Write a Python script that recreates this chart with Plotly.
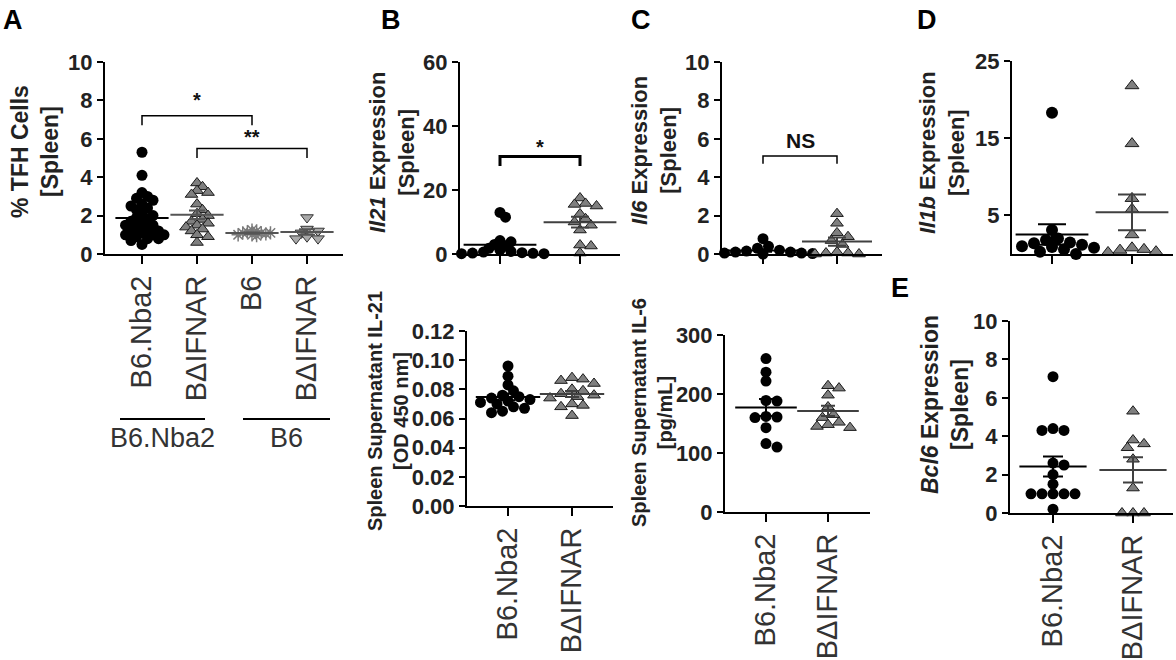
import numpy as np
import plotly.graph_objects as go

W, H = 1176, 660

# ---------------- data ----------------
groups_main = ["B6.Nba2", "BΔIFNAR"]
groups_a = ["B6.Nba2", "BΔIFNAR", "B6", "BΔIFNAR"]
background_a = ["B6.Nba2", "B6"]

# A: % TFH cells
tfh_nba2 = [5.3, 4.1, 3.2, 3.0, 2.9, 2.8, 2.6, 2.5, 2.4, 2.3, 2.1, 2.0, 1.9, 1.8, 1.7, 1.6,
            1.5, 1.5, 1.4, 1.3, 1.2, 1.2, 1.1, 1.0, 1.0, 1.0, 0.9, 0.8, 0.8, 0.7, 0.5]
tfh_bifnar = [3.7, 3.5, 3.3, 3.2, 3.1, 2.6, 2.3, 2.1, 2.0, 1.8, 1.7, 1.6, 1.5, 1.4, 1.3, 1.2, 1.0, 0.9, 0.6]
tfh_b6 = [1.25, 1.2, 1.15, 1.1, 1.1, 1.1, 1.05, 1.0, 1.0, 0.95]
tfh_b6_ifnar = [1.9, 1.3, 1.2, 1.1, 0.9, 0.8, 0.8]

# B: Il21 expression / IL-21 supernatant
il21_nba2 = [13.0, 11.5, 4.2, 3.8, 3.0, 2.5, 1.8, 1.2, 0.8, 0.6, 0.4, 0.3, 0.2, 0.1, 0.1]
il21_bifnar = [17.5, 15.8, 15.5, 15.0, 12.5, 11.0, 10.0, 9.0, 7.5, 2.8, 2.5, 0.3]
il21_od_nba2 = [0.096, 0.089, 0.083, 0.079, 0.076, 0.075, 0.074, 0.073, 0.072, 0.071,
                0.070, 0.068, 0.067, 0.065, 0.064]
il21_od_bifnar = [0.088, 0.087, 0.086, 0.084, 0.080, 0.079, 0.077, 0.076, 0.075, 0.074,
                  0.070, 0.069, 0.068, 0.062]

# C: Il6 expression / IL-6 supernatant
il6_nba2 = [0.8, 0.4, 0.3, 0.2, 0.15, 0.1, 0.1, 0.05, 0.05, 0.02, 0.02, 0.0]
il6_bifnar = [2.1, 1.6, 1.1, 0.9, 0.7, 0.5, 0.1, 0.05, 0.05, 0.0, 0.0]
il6_pg_nba2 = [260, 237, 222, 189, 188, 162, 161, 160, 143, 110, 116]
il6_pg_bifnar = [214, 210, 198, 178, 165, 160, 152, 143, 145, 148]

# D: Il1b expression
il1b_nba2 = [18.3, 3.1, 2.0, 1.8, 1.5, 1.4, 1.2, 1.0, 0.9, 0.8, 0.6, 0.3, 0.0]
il1b_bifnar = [21.8, 14.3, 7.2, 5.8, 2.5, 0.8, 0.6, 0.5, 0.3, 0.2]

# E: Bcl6 expression
bcl6_nba2 = [7.1, 4.4, 4.3, 4.3, 2.6, 2.5, 2.0, 1.5, 1.0, 1.0, 1.0, 1.0, 1.0, 0.2]
bcl6_bifnar = [5.3, 3.8, 3.6, 3.4, 2.8, 1.3, 0.0, 0.0, 0.0]

tfh_ticks = [0, 2, 4, 6, 8, 10]
il21_ticks = [0, 20, 40, 60]
il6_ticks = [0, 2, 4, 6, 8, 10]
il1b_ticks = [5, 15, 25]
od_ticks = [0, 0.02, 0.04, 0.06, 0.08, 0.10, 0.12]
pg_ticks = [0, 100, 200, 300]
bcl6_ticks = [0, 2, 4, 6, 8, 10]

# ---------------- styles ----------------
FONT = "Liberation Sans, Arial, sans-serif"
CIRCLE = dict(symbol="circle", color="black", line=dict(color="black", width=0))
TRI = dict(symbol="triangle-up", color="#7f7f7f", line=dict(color="#1a1a1a", width=1))
STAR = dict(symbol="asterisk-open", color="#7a7a7a", line=dict(color="#6e6e6e", width=1.5))
TRID = dict(symbol="triangle-down", color="#a9a9a9", line=dict(color="#333333", width=1))


def pxx(p):
    return p / W


def pxy(p):
    return 1 - p / H


def swarm(vals, ppu_y, ppu_x, d, k):
    v = np.asarray(vals, float)
    ypx = v * ppu_y
    order = np.argsort(-v, kind="stable")
    xs = np.zeros(len(v))
    placed = []
    step = d * 0.5 * min(1.0, k / 0.5)
    for i in order:
        cand = 0.0
        for j in range(80):
            cand = ((j + 1) // 2) * step * (1 if j % 2 else -1)
            if all((cand - a) ** 2 + (ypx[i] - b) ** 2 >= (k * d) ** 2 for a, b in placed):
                break
        placed.append((cand, ypx[i]))
        xs[i] = cand
    return xs / ppu_x


fig = go.Figure()
layout = {}


def add_panel(n, box, cat0, step, labels, yticks, ymax, series, msize=11,
              mean_w=48, cap_w=10, k=0.8, yfmt=None):
    left, right, top, bottom = box
    xa = "xaxis" if n == 1 else f"xaxis{n}"
    ya = "yaxis" if n == 1 else f"yaxis{n}"
    xr = "x" if n == 1 else f"x{n}"
    yr = "y" if n == 1 else f"y{n}"
    ppu_y = (bottom - top) / ymax
    for i, s in enumerate(series):
        vals, style, mcol = s[:3]
        kk = s[3] if len(s) > 3 else k
        offs = swarm(vals, ppu_y, step, msize, kk)
        fig.add_trace(go.Scatter(
            x=i + offs, y=vals, mode="markers", xaxis=xr, yaxis=yr,
            marker=dict(size=msize, **style), cliponaxis=False,
            showlegend=False, hoverinfo="y"))
        v = np.asarray(vals, float)
        sem = v.std(ddof=1) / np.sqrt(len(v))
        fig.add_trace(go.Scatter(
            x=[i], y=[v.mean()], mode="markers", xaxis=xr, yaxis=yr,
            marker=dict(symbol="line-ew-open", size=mean_w, color=mcol,
                        line=dict(color=mcol, width=2)),
            error_y=dict(type="data", array=[sem], width=cap_w, thickness=2, color=mcol),
            cliponaxis=False, showlegend=False, hoverinfo="skip"))
    layout[xa] = dict(
        domain=[pxx(left), pxx(right)], anchor=yr,
        range=[(left - cat0) / step, (right - cat0) / step],
        tickvals=list(range(len(series))), ticktext=labels if labels else [""] * len(series),
        tickangle=-90, ticks="outside", ticklen=8, tickwidth=2, tickcolor="black",
        tickfont=dict(family=FONT, size=29, color="#333333"),
        showline=True, linecolor="black", linewidth=2, showgrid=False, zeroline=False,
        automargin=False, fixedrange=True)
    layout[ya] = dict(
        domain=[pxy(bottom), pxy(top)], anchor=xr, range=[0, ymax],
        tickvals=yticks, tickformat=yfmt, ticks="outside", ticklen=6, tickwidth=2,
        tickcolor="black", tickfont=dict(family=FONT, size=22, color="#222222", weight="bold"),
        showline=True, linecolor="black", linewidth=2, showgrid=False, zeroline=False,
        automargin=False, fixedrange=True)
    return xr, yr


# A
xa1, ya1 = add_panel(1, (105, 343, 62, 254), 142, 55, groups_a, tfh_ticks, 10,
                     [(tfh_nba2, CIRCLE, "black"), (tfh_bifnar, TRI, "#555555"),
                      (tfh_b6, STAR, "#555555", 0.42), (tfh_b6_ifnar, TRID, "#555555")],
                     mean_w=38, cap_w=8, k=0.55)
# B top
xa2, ya2 = add_panel(2, (460, 620, 62, 254), 500, 80, None, il21_ticks, 60,
                     [(il21_nba2, CIRCLE, "black"), (il21_bifnar, TRI, "#404040")],
                     mean_w=52, cap_w=9, k=0.6)
# C top
xa3, ya3 = add_panel(3, (722, 882, 62, 254), 763, 74, None, il6_ticks, 10,
                     [(il6_nba2, CIRCLE, "black"), (il6_bifnar, TRI, "#404040")],
                     mean_w=50, cap_w=9, k=0.7)
# D
xa4, ya4 = add_panel(4, (1012, 1173, 61, 254), 1052, 80, None, il1b_ticks, 25,
                     [(il1b_nba2, CIRCLE, "black"), (il1b_bifnar, TRI, "#404040")],
                     msize=12, mean_w=52, cap_w=14, k=0.75)
# B bottom
xa5, ya5 = add_panel(5, (467, 613, 331, 506), 508, 64, groups_main, od_ticks, 0.12,
                     [(il21_od_nba2, CIRCLE, "black"), (il21_od_bifnar, TRI, "#404040")],
                     mean_w=46, cap_w=7, k=0.7, yfmt=".2f")
# C bottom
xa6, ya6 = add_panel(6, (725, 870, 335, 512), 766, 62, groups_main, pg_ticks, 300,
                     [(il6_pg_nba2, CIRCLE, "black"), (il6_pg_bifnar, TRI, "#404040")],
                     mean_w=44, cap_w=7, k=0.8)
# E
xa7, ya7 = add_panel(7, (1010, 1173, 321, 513), 1053, 80, groups_main, bcl6_ticks, 10,
                     [(bcl6_nba2, CIRCLE, "black"), (bcl6_bifnar, TRI, "#404040")],
                     mean_w=48, cap_w=10, k=0.85)

shapes = []
annotations = []


def bracket(xr, yr, x0, x1, y_top, y_end, width=1.5):
    shapes.append(dict(type="path", xref=xr, yref=yr,
                       path=f"M {x0},{y_end} L {x0},{y_top} L {x1},{y_top} L {x1},{y_end}",
                       line=dict(color="black", width=width)))


def label(xr, yr, x, y, text, size=20):
    annotations.append(dict(xref=xr, yref=yr, x=x, y=y, text=text, showarrow=False,
                            xanchor="center", yanchor="middle",
                            font=dict(family=FONT, size=size, color="#111111", weight="bold")))


bracket(xa1, ya1, 0, 2, 7.2, 6.7)
label(xa1, ya1, 1, 8.0, "*")
bracket(xa1, ya1, 1, 3, 5.5, 5.0)
label(xa1, ya1, 2, 6.1, "**")
bracket(xa2, ya2, 0, 1, 30.5, 27.5, width=3)
label(xa2, ya2, 0.5, 33.5, "*")
bracket(xa3, ya3, 0, 1, 5.1, 4.7)
label(xa3, ya3, 0.5, 5.9, "NS", size=21)

# group underlines in A
for x0, x1, txt in [(120, 205, background_a[0]), (243, 330, background_a[1])]:
    shapes.append(dict(type="line", xref="paper", yref="paper", x0=pxx(x0), x1=pxx(x1),
                       y0=pxy(419), y1=pxy(419), line=dict(color="black", width=2)))
    annotations.append(dict(xref="paper", yref="paper", x=pxx((x0 + x1) / 2), y=pxy(438),
                            text=txt, showarrow=False, xanchor="center", yanchor="middle",
                            font=dict(family=FONT, size=27, color="#333333")))

# y-axis titles (x px, y px, font size, text)
titles = [
    (35, 152, 23, "% TFH Cells<br>[Spleen]"),
    (392, 153, 22, "<i>Il21</i> Expression<br>[Spleen]"),
    (654, 151, 22, "<i>Il6</i> Expression<br>[Spleen]"),
    (942, 152, 22, "<i>Il1b</i> Expression<br>[Spleen]"),
    (388, 411, 20, "Spleen Supernatant IL-21<br>[OD 450 nm]"),
    (652, 412, 20, "Spleen Supernatant IL-6<br>[pg/mL]"),
    (945, 405, 23, "<i>Bcl6</i> Expression<br>[Spleen]"),
]
for x, y, fs, t in titles:
    annotations.append(dict(xref="paper", yref="paper", x=pxx(x), y=pxy(y), text=t,
                            textangle=-90, showarrow=False, align="center",
                            xanchor="center", yanchor="middle",
                            font=dict(family=FONT, size=fs, color="#222222", weight="bold")))

# panel letters
for x, y, t in [(13, 20, "A"), (391, 20, "B"), (641, 20, "C"), (927, 20, "D"), (900, 288, "E")]:
    annotations.append(dict(xref="paper", yref="paper", x=pxx(x), y=pxy(y), text=t,
                            showarrow=False, xanchor="center", yanchor="middle",
                            font=dict(family=FONT, size=27, color="black", weight="bold")))

fig.update_layout(
    width=W, height=H, margin=dict(l=0, r=0, t=0, b=0),
    paper_bgcolor="white", plot_bgcolor="white", showlegend=False,
    font=dict(family=FONT), shapes=shapes, annotations=annotations, **layout)

fig.write_html("out.html", config={"displayModeBar": False},
               post_script="document.body.style.margin='0';")
